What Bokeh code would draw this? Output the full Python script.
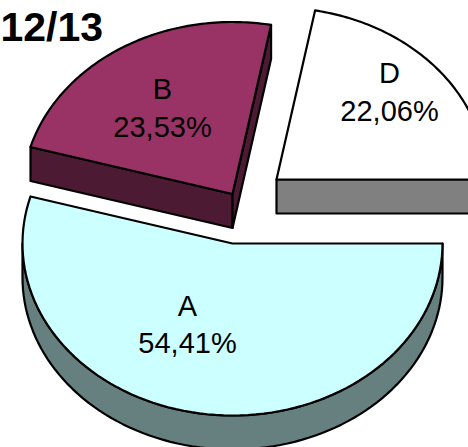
import numpy as np
from bokeh.plotting import figure
from bokeh.models import Range1d
from bokeh.embed import file_html
from bokeh.resources import INLINE
from bokeh.core.properties import value

title = "12/13"
categories = ["A", "B", "D"]
shares = [54.41, 23.53, 22.06]
share_labels = ["54,41%", "23,53%", "22,06%"]
top_colors = ["#CCFFFF", "#993366", "#FFFFFF"]
side_colors = ["#668080", "#4D1A33", "#808080"]

W, H = 468, 447
RX, RY, DEPTH = 210.0, 172.0, 34.0
apex = {"A": (232.0, 243.0), "B": (232.0, 193.5), "D": (276.0, 179.0)}
text_at = {"A": (187, 305, 342), "B": (162, 88, 126), "D": (389, 72, 110)}

p = figure(width=W, height=H, output_backend="svg", toolbar_location=None,
           x_range=Range1d(0, W), y_range=Range1d(H, 0), min_border=0,
           outline_line_color=None, background_fill_color="white",
           border_fill_color="white")
p.axis.visible = False
p.grid.visible = False

cum = np.concatenate([[0], np.cumsum(shares)]) / np.sum(shares) * 2 * np.pi


def arc(c, a0, a1, dy=0.0, n=90):
    t = np.linspace(a0, a1, n)
    return c[0] + RX * np.cos(t), c[1] + RY * np.sin(t) + dy


def draw(xs, ys, color):
    p.patch(list(xs), list(ys), fill_color=color, line_color="black",
            line_width=2.2, line_join="round")


order = [2, 1, 0]
for i in order:
    name = categories[i]
    c = apex[name]
    a0, a1 = cum[i], cum[i + 1]
    ex0, ey0 = c[0] + RX * np.cos(a0), c[1] + RY * np.sin(a0)
    ex1, ey1 = c[0] + RX * np.cos(a1), c[1] + RY * np.sin(a1)
    if name == "A":
        x1, y1 = arc(c, 0, np.pi)
        x2, y2 = arc(c, np.pi, 0, DEPTH)
        draw(np.r_[x1, x2], np.r_[y1, y2], side_colors[i])
    if name == "B":
        draw([ex0, c[0], c[0], ex0], [ey0, c[1], c[1] + DEPTH, ey0 + DEPTH], side_colors[i])
        draw([ex1, c[0], c[0], ex1], [ey1, c[1], c[1] + DEPTH, ey1 + DEPTH], side_colors[i])
    if name == "D":
        draw([c[0], ex1, ex1, c[0]], [c[1], ey1, ey1 + DEPTH, c[1] + DEPTH], side_colors[i])
    xa, ya = arc(c, a0, a1)
    draw(np.r_[c[0], xa], np.r_[c[1], ya], top_colors[i])
    tx, ty1, ty2 = text_at[name]
    p.text([tx, tx], [ty1, ty2], text=[name, share_labels[i]], text_align="center",
           text_baseline="middle", text_font=value("Liberation Sans"),
           text_font_size="29px", text_color="black")

p.text([0], [26], text=[title], text_align="left", text_baseline="middle",
       text_font=value("Liberation Sans"), text_font_style="bold",
       text_font_size="41px", text_color="black")

open("out.html", "w").write(file_html(p, INLINE))
